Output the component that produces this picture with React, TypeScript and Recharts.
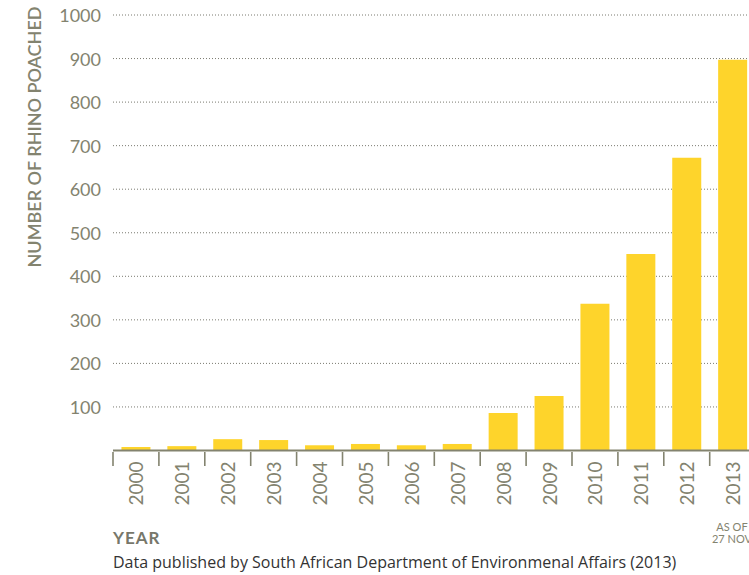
import React from 'react';
import { BarChart, Bar, XAxis, YAxis, CartesianGrid } from 'recharts';

// rhino poached per year
const years = ['2000', '2001', '2002', '2003', '2004', '2005', '2006', '2007', '2008', '2009', '2010', '2011', '2012', '2013'];
const poached = [8, 10, 26, 24, 12, 15, 12, 15, 86, 125, 337, 451, 672, 897];
const yTicks = [100, 200, 300, 400, 500, 600, 700, 800, 900, 1000];

const data = years.map((year, i) => ({ year, poached: poached[i] }));

const FONT = 'Lato, "Open Sans", sans-serif';
const GREY = '#83836f';
const HALF_BAND = 22.95;

const YTick = (props: any) => {
    const { y, payload } = props;
    return (
        <text x={101} y={y} textAnchor="end" dominantBaseline="central" fontFamily={FONT} fontSize={18} fill={GREY}>
            {payload.value}
        </text>
    );
};

const XTick = (props: any) => {
    const { x, y, payload } = props;
    const left = x - HALF_BAND;
    return (
        <g>
            <line x1={left} x2={left} y1={y - 4.5} y2={y + 9.5} stroke={GREY} strokeWidth={1.6} />
            <text
                x={x}
                y={y + 5}
                transform={`rotate(-90, ${x}, ${y + 5})`}
                textAnchor="end"
                dominantBaseline="central"
                fontFamily={FONT}
                fontSize={19}
                fill={GREY}
            >
                {payload.value}
            </text>
        </g>
    );
};

export default function App() {
    return (
        <div style={{ position: 'fixed', left: 0, top: 0, width: 749, height: 575, overflow: 'hidden', background: '#fff' }}>
            <BarChart width={760} height={575} data={data} margin={{ top: 15, right: 4.4, left: 0, bottom: 0 }} barCategoryGap="18.4%">
                <CartesianGrid vertical={false} stroke="#7a7a70" strokeDasharray="1 2" />
                <XAxis
                    dataKey="year"
                    interval={0}
                    height={124.5}
                    tickLine={false}
                    axisLine={{ stroke: GREY, strokeWidth: 2 }}
                    tick={<XTick />}
                    tickMargin={0}
                />
                <YAxis
                    width={113}
                    domain={[0, 1000]}
                    ticks={yTicks}
                    axisLine={false}
                    tickLine={false}
                    tick={<YTick />}
                />
                <Bar dataKey="poached" fill="#fed42b" isAnimationActive={false} />
            </BarChart>

            <div style={{
                position: 'absolute', left: 34, top: 136.5, transform: 'translate(-50%, -50%) rotate(-90deg)',
                whiteSpace: 'nowrap', fontFamily: FONT, fontSize: 18, fontWeight: 600, color: GREY, lineHeight: 1,
            }}>
                NUMBER OF RHINO POACHED
            </div>

            <div style={{ position: 'absolute', left: 113, top: 529, fontFamily: FONT, fontSize: 17, fontWeight: 700, color: '#77776a', lineHeight: 1, letterSpacing: 1 }}>
                YEAR
            </div>
            <div style={{ position: 'absolute', left: 113, top: 554, fontFamily: '"Open Sans", sans-serif', fontSize: 16, color: '#333', lineHeight: 1 }}>
                Data published by South African Department of Environmenal Affairs (2013)
            </div>
            <div style={{
                position: 'absolute', left: 732, top: 521, transform: 'translateX(-50%)', textAlign: 'center',
                fontFamily: FONT, fontSize: 11, color: GREY, lineHeight: '12px', whiteSpace: 'nowrap',
            }}>
                AS OF<br />27 NOV
            </div>
        </div>
    );
}
